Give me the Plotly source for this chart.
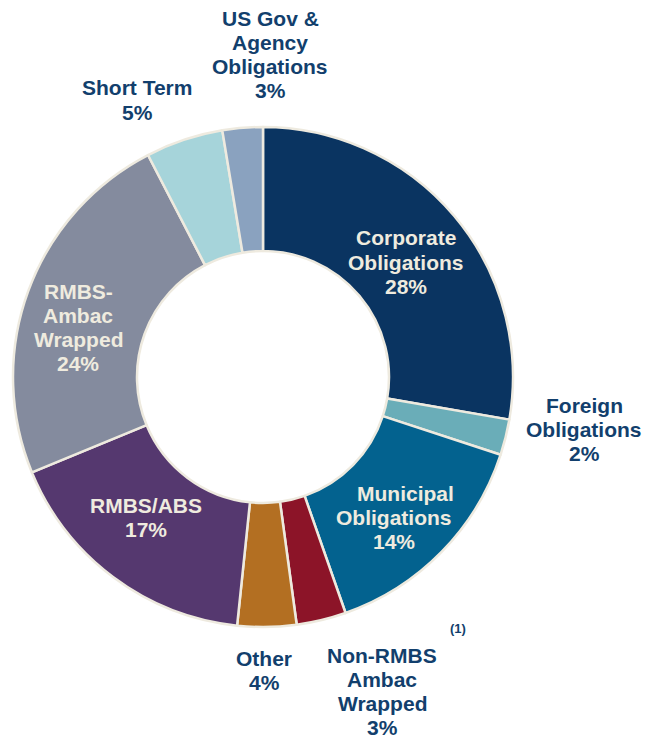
import plotly.graph_objects as go

# ---- data ----
categories = ["Corporate Obligations", "Foreign Obligations", "Municipal Obligations",
              "Non-RMBS Ambac Wrapped", "Other", "RMBS/ABS", "RMBS-Ambac Wrapped",
              "Short Term", "US Gov & Agency Obligations"]
values = [27.7, 2.3, 14.6, 3.2, 3.8, 17.1, 23.6, 5.0, 2.6]
pct_labels = ["28%", "2%", "14%", "3%", "4%", "17%", "24%", "5%", "3%"]
label_lines = [["Corporate", "Obligations"], ["Foreign", "Obligations"],
               ["Municipal", "Obligations"], ["Non-RMBS", "Ambac", "Wrapped"],
               ["Other"], ["RMBS/ABS"], ["RMBS-", "Ambac", "Wrapped"],
               ["Short Term"], ["US Gov &", "Agency", "Obligations"]]

# ---- styles / layout ----
colors = ["#0A3461", "#6AADB8", "#03628F", "#8C1428", "#B36F22",
          "#55386F", "#848B9E", "#A6D4DA", "#8AA2BF"]
inside = [True, False, True, False, False, True, True, False, False]
# (x center, y of first line center) in pixels
label_pos = [(406, 238), (584, 405), (394, 493), (382, 655), (264, 658),
             (146, 505), (78, 291), (137, 88), (270, 18)]
first_line_dx = [0, 0, 11, 0, 0, 0, 0, 0, 0]
W, H = 645, 738
cx, cy, R = 263, 377, 250
line_gap = 24.2
inside_color = "#EFEBDF"
outside_color = "#123F6D"
font_family = "Liberation Sans, Arial, sans-serif"
font_size = 21

fig = go.Figure(go.Pie(
    labels=categories, values=values, sort=False, direction="clockwise",
    rotation=0, hole=0.504, textinfo="none", hoverinfo="label+percent",
    marker=dict(colors=colors, line=dict(color="#EEEADF", width=2.5)),
    domain=dict(x=[(cx - R) / W, (cx + R) / W], y=[1 - (cy + R) / H, 1 - (cy - R) / H]),
    showlegend=False,
))

annotations = []
for lines, pct, (x, y), ins, dx in zip(label_lines, pct_labels, label_pos, inside, first_line_dx):
    for i, t in enumerate(lines + [pct]):
        annotations.append(dict(
            x=(x + (dx if i == 0 else 0)) / W, y=1 - (y + i * line_gap) / H,
            xref="paper", yref="paper",
            text="<b>" + t + "</b>", showarrow=False, xanchor="center", yanchor="middle",
            font=dict(family=font_family, size=font_size,
                      color=inside_color if ins else outside_color),
        ))
annotations.append(dict(x=458 / W, y=1 - 628 / H, xref="paper", yref="paper",
                        text="<b>(1)</b>", showarrow=False, xanchor="center", yanchor="middle",
                        font=dict(family=font_family, size=13, color=outside_color)))

fig.update_layout(width=W, height=H, margin=dict(l=0, r=0, t=0, b=0),
                  paper_bgcolor="white", plot_bgcolor="white", annotations=annotations)
fig.write_html("out.html", config={"displayModeBar": False},
               post_script="document.body.style.margin='0';document.body.style.overflow='hidden';")
